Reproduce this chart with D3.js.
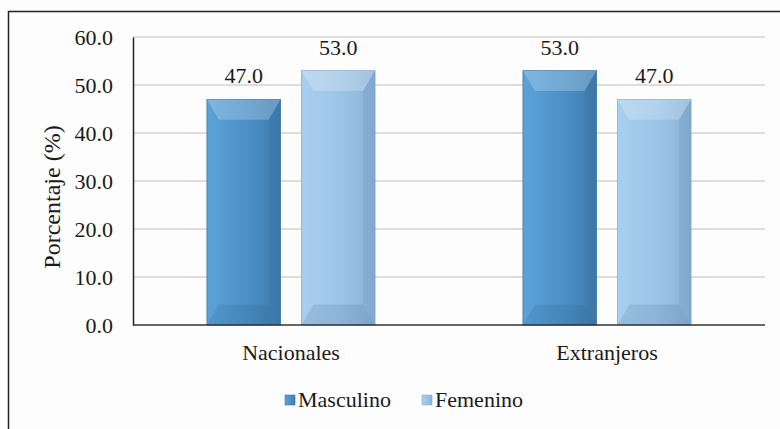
<!DOCTYPE html>
<html>
<head>
    <script src="https://d3js.org/d3.v7.min.js"></script>
    <style>
        body {margin: 0; background: #fdfdfd;}
        svg {display: block;}
        .grid line {stroke: #d8cfcb; stroke-width: 1.5px;}
    </style>
</head>
<body>
    <svg width="780" height="429"></svg>
    <script>
        // chart values
        let categories = ["Nacionales", "Extranjeros"];
        let seriesNames = ["Masculino", "Femenino"];
        let masculino = [47.0, 53.0];
        let femenino = [53.0, 47.0];
        let yTicks = [0, 10, 20, 30, 40, 50, 60];

        const FONT = "Liberation Serif";
        let svg = d3.select("svg").attr("font-family", FONT);
        let margin = {left: 133, right: 15, top: 37, bottom: 104};
        let plotW = 780 - margin.left - margin.right;
        let plotH = 429 - margin.top - margin.bottom;

        // frame around the whole chart
        svg.append("rect")
            .attr("x", 8.5).attr("y", 11.5)
            .attr("width", 790).attr("height", 440)
            .attr("fill", "#fdfdfd")
            .attr("stroke", "#222").attr("stroke-width", 1.5);

        let g = svg.append("g").attr("transform", `translate(${margin.left},${margin.top})`);

        let x0 = d3.scaleBand().domain(categories).range([0, plotW]);
        let x1 = d3.scaleBand().domain(seriesNames)
            .range([x0.bandwidth() * 0.234, x0.bandwidth() * 0.766]).paddingInner(0.22);
        let y = d3.scaleLinear().domain([0, 60]).range([plotH, 0]);

        // gradients
        let defs = svg.append("defs");
        let colors = {
            Masculino: ["#5aa3d8", "#4b90c6", "#3e7cae"],
            Femenino: ["#a8cfee", "#9cc4e7", "#88b0d6"]
        };
        seriesNames.forEach(s => {
            let gr = defs.append("linearGradient").attr("id", "grad-" + s);
            gr.append("stop").attr("offset", "0%").attr("stop-color", colors[s][0]);
            gr.append("stop").attr("offset", "55%").attr("stop-color", colors[s][1]);
            gr.append("stop").attr("offset", "100%").attr("stop-color", colors[s][2]);
        });

        // gridlines
        g.append("g").attr("class", "grid")
            .selectAll("line").data(yTicks.filter(d => d > 0)).join("line")
            .attr("x1", 0).attr("x2", plotW)
            .attr("y1", d => y(d)).attr("y2", d => y(d));

        // y axis
        let yAxis = g.append("g")
            .call(d3.axisLeft(y).tickValues(yTicks).tickFormat(d3.format(".1f")).tickSize(0).tickPadding(20));
        yAxis.attr("font-family", FONT).attr("font-size", 22);
        yAxis.select(".domain").attr("stroke", "#222").attr("stroke-width", 1.5);
        yAxis.selectAll("text").attr("font-family", FONT).attr("fill", "#1a1a1a");

        // bars
        let data = [];
        categories.forEach((c, i) => {
            data.push({cat: c, series: "Masculino", value: masculino[i]});
            data.push({cat: c, series: "Femenino", value: femenino[i]});
        });

        let bars = g.selectAll(".bar").data(data).join("g").attr("class", "bar")
            .attr("transform", d => `translate(${x0(d.cat) + x1(d.series)},0)`);
        let bw = x1.bandwidth();
        bars.append("rect")
            .attr("x", 0).attr("width", bw)
            .attr("y", d => y(d.value)).attr("height", d => y(0) - y(d.value))
            .attr("fill", d => `url(#grad-${d.series})`)
            .attr("stroke", d => d.series == "Masculino" ? "#3f78a8" : "#86aed2")
            .attr("stroke-width", 0.8);
        // bevel: light top, darker bottom and right side
        let bev = 12;
        bars.append("polygon")
            .attr("points", d => {
                let t = y(d.value);
                return `0,${t} ${bw},${t} ${bw - bev},${t + bev * 1.7} ${bev},${t + bev * 1.7}`;
            })
            .attr("fill", "#ffffff").attr("opacity", 0.22);
        bars.append("polygon")
            .attr("points", d => {
                let b = y(0);
                return `0,${b} ${bw},${b} ${bw - bev},${b - bev * 1.7} ${bev},${b - bev * 1.7}`;
            })
            .attr("fill", "#1d3f60").attr("opacity", 0.12);
        bars.append("polygon")
            .attr("points", d => {
                let t = y(d.value), b = y(0);
                return `${bw},${t} ${bw},${b} ${bw - bev},${b - bev * 1.7} ${bw - bev},${t + bev * 1.7}`;
            })
            .attr("fill", "#1d3f60").attr("opacity", 0.07);

        // value labels
        bars.append("text")
            .attr("x", bw / 2).attr("y", d => y(d.value) - 16)
            .attr("text-anchor", "middle").attr("font-size", 22)
            .attr("font-family", FONT).attr("fill", "#1a1a1a")
            .text(d => d3.format(".1f")(d.value));

        // baseline
        g.append("line")
            .attr("x1", 0).attr("x2", plotW).attr("y1", y(0)).attr("y2", y(0))
            .attr("stroke", "#333").attr("stroke-width", 1.5);

        // category labels
        g.selectAll(".cat").data(categories).join("text")
            .attr("x", d => x0(d) + x0.bandwidth() / 2).attr("y", plotH + 35)
            .attr("text-anchor", "middle").attr("font-size", 22)
            .attr("font-family", FONT).attr("fill", "#1a1a1a")
            .text(d => d);

        // y title
        svg.append("text")
            .attr("transform", "translate(60,197) rotate(-90)")
            .attr("text-anchor", "middle").attr("font-size", 24)
            .attr("font-family", FONT).attr("fill", "#1a1a1a")
            .text("Porcentaje (%)");

        // legend
        let legendX = [285, 422];
        let leg = svg.selectAll(".legend").data(seriesNames).join("g")
            .attr("transform", (d, i) => `translate(${legendX[i]},395)`);
        leg.append("rect").attr("width", 10).attr("height", 10)
            .attr("fill", d => `url(#grad-${d})`)
            .attr("stroke", d => d == "Masculino" ? "#3f78a8" : "#86aed2").attr("stroke-width", 0.6);
        leg.append("text").attr("x", 13).attr("y", 12).attr("font-size", 22)
            .attr("font-family", FONT).attr("fill", "#1a1a1a")
            .text(d => d);
    </script>
</body>
</html>
